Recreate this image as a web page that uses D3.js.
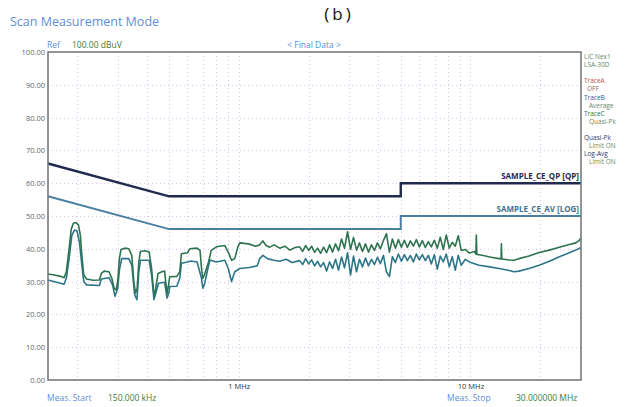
<!DOCTYPE html>
<html>
<head>
<meta charset="utf-8">
<script src="https://cdn.jsdelivr.net/npm/d3@7"></script>
<style>
  body { margin: 0; background: #fff; }
  svg { display: block; font-family: "Open Sans", sans-serif; }
</style>
</head>
<body>
<div id="chart"></div>
<script>
// limit lines (MHz / dBuV)
const qpLimitFreq = [0.15, 0.5, 5, 5, 30];
const qpLimitVal  = [66, 56, 56, 60, 60];
const avLimitFreq = [0.15, 0.5, 5, 5, 30];
const avLimitVal  = [56, 46, 46, 50, 50];

const qpFreq = [0.150,0.160,0.170,0.176,0.180,0.185,0.189,0.193,0.198,0.203,0.207,0.210,0.214,0.220,0.235,0.250,0.255,0.262,0.275,0.283,0.290,0.295,0.300,0.305,0.310,0.322,0.335,0.345,0.352,0.358,0.364,0.370,0.376,0.395,0.410,0.420,0.428,0.434,0.440,0.448,0.465,0.478,0.485,0.490,0.496,0.503,0.540,0.556,0.565,0.600,0.614,0.660,0.680,0.690,0.699,0.710,0.740,0.760,0.800,0.870,0.900,0.930,0.960,0.990,1.010,1.100,1.180,1.230,1.270,1.310,1.360,1.420,1.500,1.580,1.660,1.750,
  1.830,1.885,1.942,2.001,2.061,2.124,2.188,2.254,2.322,2.392,2.464,2.538,2.615,2.694,2.775,2.859,2.946,3.035,3.126,3.221,3.318,3.418,3.521,3.627,3.737,3.850,3.966,4.086,4.209,4.336,4.467,4.602,4.741,4.884,5.032,5.184,5.340,5.501,5.668,5.839,6.015,6.197,6.384,6.577,6.775,6.980,7.191,7.408,7.632,7.862,8.100,8.344,8.596,8.856,9.123,
  9.50,9.88,10.40,10.55,10.60,10.65,10.90,11.50,12.10,13.30,13.55,13.60,13.65,14.70,15.40,16.20,17.90,19.80,21.90,24.20,26.70,28.50,29.50,30.00];
const qpVal = [32.3,32.0,31.6,31.2,33.0,40.0,46.0,47.8,48.0,47.3,44.0,38.0,32.0,30.8,30.4,30.5,32.5,33.2,33.0,31.0,27.8,27.5,30.0,37.0,39.8,40.2,40.0,38.0,30.0,26.5,28.0,36.0,39.2,39.4,39.0,34.0,27.5,26.0,29.0,32.5,33.0,33.2,29.0,26.5,28.5,31.5,31.6,33.0,38.5,38.8,40.0,40.2,39.5,34.0,31.0,32.0,36.0,39.5,40.6,41.0,39.0,36.5,37.0,40.5,41.8,41.5,40.8,41.2,42.4,41.0,40.5,41.2,40.2,40.8,39.6,40.4,
  40.6,39.2,41.0,39.5,40.8,38.9,40.2,38.6,40.5,38.8,41.2,39.0,41.5,39.4,43.0,40.2,45.2,39.8,43.5,39.6,41.8,39.2,41.5,39.0,41.2,39.5,41.8,40.0,42.5,44.6,39.0,43.0,40.2,42.8,40.5,42.6,40.4,42.4,40.8,42.8,40.6,42.5,40.4,42.2,40.6,42.6,40.2,43.5,39.8,44.2,40.2,42.0,40.8,44.0,39.5,
  39.8,38.7,39.2,38.4,44.2,38.3,38.2,37.9,37.5,37.0,36.9,41.5,36.9,36.6,36.5,37.0,37.8,38.9,39.6,40.5,41.3,41.8,42.6,43.3];

const avFreq = [0.150,0.176,0.180,0.185,0.190,0.195,0.200,0.205,0.210,0.214,0.220,0.250,0.255,0.275,0.285,0.292,0.300,0.305,0.312,0.335,0.345,0.355,0.363,0.370,0.376,0.410,0.420,0.430,0.440,0.450,0.478,0.490,0.500,0.503,0.540,0.556,0.565,0.600,0.620,0.660,0.690,0.699,0.710,0.730,0.750,0.800,0.870,0.900,0.930,0.960,1.010,1.110,1.200,1.230,1.270,1.330,1.400,1.500,1.600,1.700,
  1.830,1.885,1.942,2.001,2.061,2.124,2.188,2.254,2.322,2.392,2.464,2.538,2.615,2.694,2.775,2.859,2.946,3.035,3.126,3.221,3.318,3.418,3.521,3.627,3.737,3.850,3.966,4.086,4.209,4.336,4.467,4.602,4.741,4.884,5.032,5.184,5.340,5.501,5.668,5.839,6.015,6.197,6.384,6.577,6.775,6.980,7.191,7.408,7.632,7.862,8.100,8.344,8.596,8.856,9.123,
  9.50,9.88,10.90,12.10,13.30,14.70,15.40,16.20,17.90,19.80,21.90,24.20,26.70,28.50,30.00];
const avVal = [30.5,29.2,31.0,37.0,44.0,45.7,45.5,42.0,35.0,30.0,29.0,28.8,30.8,31.2,29.0,25.5,28.0,33.5,37.0,37.0,35.0,26.0,24.5,33.0,36.5,36.5,32.0,24.5,27.0,29.5,29.8,25.0,27.0,28.5,28.6,31.0,35.6,36.0,36.3,36.0,31.0,28.0,29.0,33.0,36.6,36.0,36.5,34.0,30.0,33.0,34.0,34.3,34.8,37.0,38.0,37.0,36.6,36.2,36.8,35.8,
  36.4,35.2,37.0,35.4,36.6,34.8,36.2,34.5,35.8,33.2,36.0,34.0,36.8,33.5,37.5,34.2,38.8,32.0,37.8,33.0,36.8,34.5,37.2,34.8,36.8,35.2,37.4,35.5,38.0,33.0,31.5,37.6,35.8,38.4,36.2,38.2,36.4,38.0,36.0,38.4,36.6,38.2,36.4,38.0,35.4,38.2,33.8,37.8,36.0,38.4,34.5,37.6,33.5,38.0,35.0,
  36.8,36.0,35.0,34.5,34.0,33.4,33.0,33.2,34.0,35.0,36.2,37.6,38.8,39.6,40.4];

// axis + grid values
const yTicks = [0, 10, 20, 30, 40, 50, 60, 70, 80, 90, 100];
const xTicks = [1, 10];
const gridFreqs = [0.2,0.3,0.4,0.5,0.6,0.7,0.8,0.9,1,2,3,4,5,6,7,8,9,10,20];
const sideNotes = [
  {t: "LIC Nex1", c: "#5f8a6a", dx: 0},
  {t: "LSA-30D", c: "#5f8a6a", dx: 0},
  {t: "", c: "", dx: 0},
  {t: "TraceA", c: "#c0504d", dx: 0},
  {t: "OFF", c: "#8a6a6a", dx: 3},
  {t: "TraceB", c: "#2f5f9a", dx: 0},
  {t: "Average", c: "#5f8a6a", dx: 5},
  {t: "TraceC", c: "#2f7a4a", dx: 0},
  {t: "Quasi-Pk", c: "#5f8a6a", dx: 5},
  {t: "", c: "", dx: 0},
  {t: "Quasi-Pk", c: "#2a3a6a", dx: 0},
  {t: "Limit ON", c: "#5f8a6a", dx: 5},
  {t: "Log-Avg", c: "#2a3a6a", dx: 0},
  {t: "Limit ON", c: "#5f8a6a", dx: 5}
];

const width = 631, height = 407;
const plot = {left: 48, right: 581, top: 52, bottom: 380};

const svg = d3.select('#chart').append('svg')
  .attr('width', width)
  .attr('height', height);

const x = d3.scaleLog().domain([0.15, 30]).range([plot.left, plot.right]);
const y = d3.scaleLinear().domain([0, 100]).range([plot.bottom, plot.top]);

// titles
svg.append('text')
  .attr('x', 10).attr('y', 26)
  .attr('font-size', 12.5)
  .attr('fill', '#5b8fdc')
  .text('Scan Measurement Mode');

svg.append('text')
  .attr('x', 339).attr('y', 20)
  .attr('text-anchor', 'middle')
  .attr('font-size', 17)
  .attr('letter-spacing', 3)
  .attr('fill', '#111')
  .text('(b)');

svg.append('text').attr('x', 47).attr('y', 48).attr('font-size', 8.5).attr('fill', '#5b8fdc').text('Ref');
svg.append('text').attr('x', 72).attr('y', 48).attr('font-size', 8.5).attr('fill', '#3f7a3a').text('100.00 dBuV');
svg.append('text').attr('x', 314).attr('y', 48).attr('text-anchor', 'middle').attr('font-size', 8.5).attr('fill', '#5b8fdc').text('< Final Data >');

// grid
const grid = svg.append('g').attr('stroke', '#d8c4ee').attr('stroke-width', 1).attr('stroke-dasharray', '1,3');
grid.selectAll('.vg').data(gridFreqs).enter().append('line')
  .attr('x1', d => Math.round(x(d)) + 0.5).attr('x2', d => Math.round(x(d)) + 0.5)
  .attr('y1', plot.top).attr('y2', plot.bottom);
grid.selectAll('.hg').data(yTicks.slice(1, -1)).enter().append('line')
  .attr('x1', plot.left).attr('x2', plot.right)
  .attr('y1', d => Math.round(y(d)) + 0.5).attr('y2', d => Math.round(y(d)) + 0.5);

// axes
const yAxis = svg.append('g')
  .attr('transform', `translate(${plot.left - 2},0)`)
  .call(d3.axisLeft(y).tickValues(yTicks).tickFormat(d3.format('.2f')).tickSize(0).tickPadding(1));
yAxis.select('.domain').remove();
yAxis.selectAll('text').attr('font-size', 7.5).attr('fill', '#666').attr('font-family', '"Open Sans", sans-serif');

const xAxis = svg.append('g')
  .attr('transform', `translate(0,${plot.bottom + 3})`)
  .call(d3.axisBottom(x).tickValues(xTicks).tickFormat(d => d + ' MHz').tickSize(0).tickPadding(1));
xAxis.select('.domain').remove();
xAxis.selectAll('text').attr('font-size', 7.5).attr('fill', '#333').attr('font-family', '"Open Sans", sans-serif');

// traces
const line = d3.line().x(d => x(d[0])).y(d => y(d[1]));

svg.append('path')
  .datum(d3.zip(avFreq, avVal))
  .attr('d', line)
  .attr('fill', 'none')
  .attr('stroke', '#2c7688')
  .attr('stroke-width', 1.6)
  .attr('stroke-linejoin', 'round');

svg.append('path')
  .datum(d3.zip(qpFreq, qpVal))
  .attr('d', line)
  .attr('fill', 'none')
  .attr('stroke', '#2e7350')
  .attr('stroke-width', 1.6)
  .attr('stroke-linejoin', 'round');

// limits
svg.append('path')
  .datum(d3.zip(avLimitFreq, avLimitVal))
  .attr('d', line)
  .attr('fill', 'none')
  .attr('stroke', '#4a7fa0')
  .attr('stroke-width', 2);

svg.append('path')
  .datum(d3.zip(qpLimitFreq, qpLimitVal))
  .attr('d', line)
  .attr('fill', 'none')
  .attr('stroke', '#1f2a4e')
  .attr('stroke-width', 2.4);

svg.append('text')
  .attr('x', plot.right - 2).attr('y', y(60) - 4)
  .attr('text-anchor', 'end').attr('font-size', 8).attr('font-weight', 'bold')
  .attr('fill', '#1f2a4e')
  .text('SAMPLE_CE_QP [QP]');

svg.append('text')
  .attr('x', plot.right - 2).attr('y', y(50) - 4)
  .attr('text-anchor', 'end').attr('font-size', 8).attr('font-weight', 'bold')
  .attr('fill', '#3f7396')
  .text('SAMPLE_CE_AV [LOG]');

// frame
svg.append('rect')
  .attr('x', plot.left).attr('y', plot.top)
  .attr('width', plot.right - plot.left).attr('height', plot.bottom - plot.top)
  .attr('fill', 'none').attr('stroke', '#7a7a7a').attr('stroke-width', 1.6);

// side notes
svg.append('g').selectAll('text').data(sideNotes).enter().append('text')
  .attr('x', d => 584 + d.dx)
  .attr('y', (d, i) => 59 + i * 8.1)
  .attr('font-size', 6.5)
  .attr('fill', d => d.c)
  .text(d => d.t);

// footer
const foot = [
  {t: 'Meas. Start', x: 47, c: '#5b8fdc'},
  {t: '150.000 kHz', x: 108, c: '#3f7a3a'},
  {t: 'Meas. Stop', x: 447, c: '#5b8fdc'},
  {t: '30.000000 MHz', x: 516, c: '#3f7a3a'}
];
svg.append('g').selectAll('text').data(foot).enter().append('text')
  .attr('x', d => d.x).attr('y', 401)
  .attr('font-size', 8.5)
  .attr('fill', d => d.c)
  .text(d => d.t);
</script>
</body>
</html>
